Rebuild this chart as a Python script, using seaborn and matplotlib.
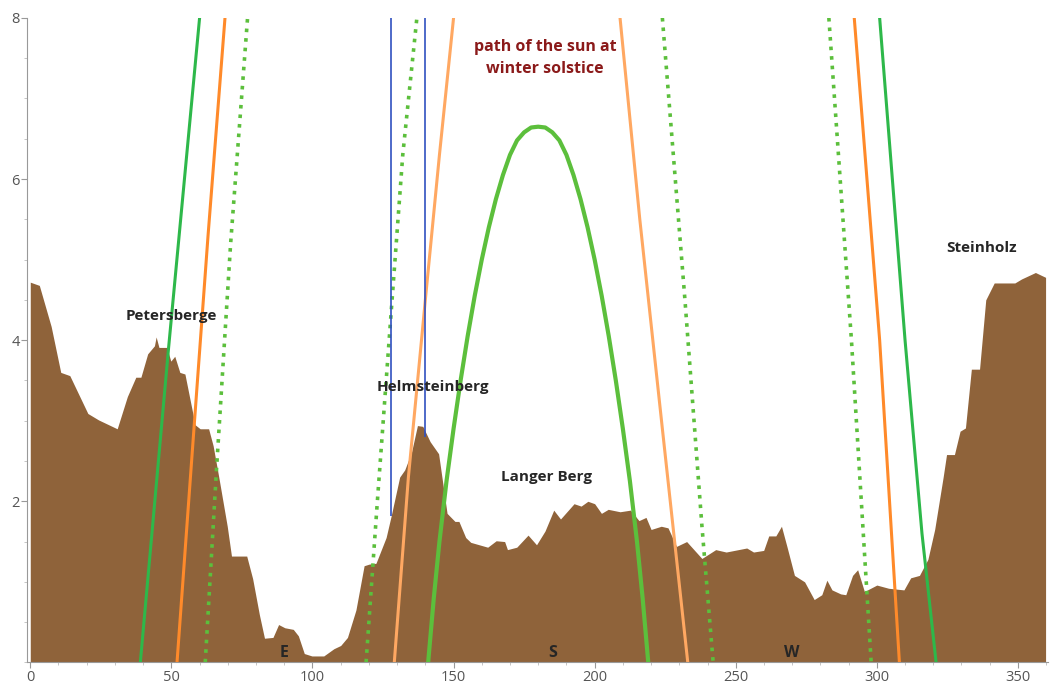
import numpy as np
import pandas as pd
import matplotlib
matplotlib.use("Agg")
import matplotlib.pyplot as plt
import seaborn as sns
from matplotlib.ticker import MultipleLocator

# horizon profile (azimuth in degrees, elevation in degrees)
terrain_az = [0, 3.2, 7.4, 10.8, 14, 20.4, 24.2, 27.8, 30.8, 34.4, 37.4, 39.2, 41.6, 44, 44.6, 45.6,
              48.4, 49.8, 51.2, 53, 54.8, 58.4, 60.2, 63.2, 64.8, 66.8, 69.8, 71.3, 76.7, 78.8, 81.2,
              83, 86, 88, 90.2, 93.2, 95, 97.1, 99.8, 104, 107.6, 110, 112.4, 115.4, 118.3, 120.1,
              122.5, 126.1, 127.9, 130.9, 132.7, 135.1, 137.2, 139.1, 141.7, 144.7, 147.7, 150.5,
              151.9, 154.3, 156.1, 162.1, 165.1, 168.1, 169.1, 172.4, 176.4, 179.4, 182.4, 185.5,
              187.9, 192.7, 195.2, 197.6, 200, 202.4, 204.8, 209, 212.7, 215.7, 218.2, 220, 223.6,
              226, 229, 232.6, 238, 242.9, 246.6, 253.9, 256.3, 259.9, 261.7, 264.2, 266.2, 268.2,
              270.8, 274.4, 277.8, 280.5, 282.3, 284.1, 287.2, 289, 291.4, 293.2, 295.6, 300, 304.2,
              309.6, 312, 315.1, 318.1, 320.5, 323.5, 324.7, 327.5, 329.5, 331.4, 333.5, 336.4,
              338.6, 341.6, 348.9, 351.3, 356.2, 359.8]
terrain_el = [4.72, 4.68, 4.17, 3.60, 3.56, 3.09, 3.01, 2.95, 2.90, 3.30, 3.54, 3.54, 3.83, 3.93, 4.04,
              3.91, 3.91, 3.74, 3.80, 3.60, 3.58, 2.95, 2.90, 2.90, 2.69, 2.30, 1.69, 1.32, 1.32, 1.04,
              0.59, 0.30, 0.31, 0.47, 0.43, 0.41, 0.33, 0.11, 0.08, 0.08, 0.17, 0.21, 0.31, 0.65, 1.20,
              1.22, 1.23, 1.55, 1.82, 2.30, 2.39, 2.61, 2.94, 2.93, 2.74, 2.59, 1.85, 1.75, 1.75, 1.55,
              1.49, 1.43, 1.51, 1.50, 1.40, 1.43, 1.58, 1.46, 1.63, 1.89, 1.78, 1.97, 1.94, 2.00, 1.97,
              1.85, 1.90, 1.87, 1.89, 1.76, 1.80, 1.65, 1.69, 1.67, 1.44, 1.50, 1.29, 1.40, 1.37, 1.42,
              1.37, 1.39, 1.57, 1.57, 1.69, 1.43, 1.08, 1.00, 0.78, 0.84, 1.02, 0.90, 0.85, 0.84, 1.08,
              1.15, 0.88, 0.96, 0.92, 0.90, 1.05, 1.08, 1.28, 1.65, 2.30, 2.58, 2.58, 2.87, 2.91, 3.64,
              3.64, 4.50, 4.71, 4.71, 4.76, 4.84, 4.78]

# sun paths (azimuth, altitude)
winter_az = [141, 143, 145, 147.5, 150, 152.5, 155, 157.5, 160, 162.5, 165, 167.5, 170, 172.5, 175,
             177.5, 180, 182.5, 185, 187.5, 190, 192.5, 195, 197.5, 200, 202.5, 205, 207.5, 210,
             212.5, 215, 217, 219]
winter_alt = [0, 0.8, 1.5, 2.25, 2.9, 3.5, 4.05, 4.55, 5.0, 5.4, 5.75, 6.05, 6.3, 6.48, 6.58,
              6.64, 6.65, 6.64, 6.58, 6.48, 6.3, 6.05, 5.75, 5.4, 5.0, 4.55, 4.05, 3.5, 2.9,
              2.25, 1.5, 0.8, 0]

green_l_az, green_l_alt = [39, 49, 60], [0, 3.9, 8]
orange_l_az, orange_l_alt = [52, 58, 63, 69], [0, 2.9, 5.3, 8]
dot_l_az, dot_l_alt = [62, 66, 71, 77], [0, 2.4, 5.2, 8]
dot_cl_az, dot_cl_alt = [119, 123, 128, 132, 137], [0, 2.0, 4.4, 6.3, 8]
orange_cl_az, orange_cl_alt = [129, 134, 140, 145, 150], [0, 2.3, 4.5, 6.3, 8]
orange_cr_az, orange_cr_alt = [209, 216, 224, 233], [8, 5.5, 2.9, 0]
dot_cr_az, dot_cr_alt = [224, 232, 238, 242], [8, 4.5, 1.7, 0]
dot_r_az, dot_r_alt = [283, 291, 298], [8, 4.0, 0]
orange_r_az, orange_r_alt = [292, 301, 308], [8, 4.0, 0]
green_r_az, green_r_alt = [301, 310, 316, 321], [8, 4.0, 1.6, 0]

sns.set_style("white")
plt.rcParams['font.family'] = ['Open Sans', 'DejaVu Sans']

fig, ax = plt.subplots(figsize=(10.56, 6.9), dpi=100)

brown = "#8f633a"
ax.fill_between(terrain_az, terrain_el, 0, color=brown, lw=0, zorder=1)

green = "#2eb84a"
lgreen = "#5cbf3c"
orange = "#ff8a2a"
lorange = "#ffa862"

def path(az, alt, color, ls="-", lw=2.2):
    sns.lineplot(x=az, y=alt, ax=ax, color=color, linestyle=ls, lw=lw, sort=False,
                 estimator=None, zorder=3)

path(green_l_az, green_l_alt, green)
path(orange_l_az, orange_l_alt, orange)
path(dot_l_az, dot_l_alt, lgreen, ":", 2.6)
path(dot_cl_az, dot_cl_alt, lgreen, ":", 2.6)
path(orange_cl_az, orange_cl_alt, lorange)
path(winter_az, winter_alt, lgreen, "-", 3)
path(orange_cr_az, orange_cr_alt, lorange)
path(dot_cr_az, dot_cr_alt, lgreen, ":", 2.6)
path(dot_r_az, dot_r_alt, lgreen, ":", 2.6)
path(orange_r_az, orange_r_alt, orange)
path(green_r_az, green_r_alt, green)

ax.vlines([128, 140], [1.82, 2.8], 8, color="#3050c0", lw=1.2, zorder=4)

ax.text(182.5, 7.5, "path of the sun at\nwinter solstice", color="#8b1a1a", fontsize=11.5,
        fontweight="bold", ha="center", va="center", linespacing=1.5)
for txt, x, y in [("Petersberge", 50, 4.3), ("Helmsteinberg", 142.5, 3.42),
                  ("Langer Berg", 183, 2.3), ("Steinholz", 337, 5.15)]:
    ax.text(x, y, txt, fontsize=11, fontweight="bold", ha="center", va="center", zorder=5)
for txt, x in [("E", 90), ("S", 185), ("W", 270)]:
    ax.text(x, 0.12, txt, fontsize=11.5, fontweight="bold", ha="center", va="center", zorder=5)

ax.set_xlim(-1, 360.5)
ax.set_ylim(0, 8)
ax.xaxis.set_major_locator(MultipleLocator(50))
ax.xaxis.set_minor_locator(MultipleLocator(10))
ax.yaxis.set_major_locator(MultipleLocator(2))
ax.yaxis.set_minor_locator(MultipleLocator(0.5))
ax.set_yticks([2, 4, 6, 8])
ax.tick_params(which="major", length=4, color="#999999", labelcolor="#555555", labelsize=10.5,
               direction="out", pad=1.5)
ax.tick_params(which="minor", length=2.5, color="#bbbbbb", direction="out")
ax.tick_params(left=True, bottom=True, which="both")
sns.despine(ax=ax)
for s in ["left", "bottom"]:
    ax.spines[s].set_color("#999999")

plt.subplots_adjust(left=0.026, right=0.992, bottom=0.04, top=0.974)
fig.savefig("out.png", dpi=100)
